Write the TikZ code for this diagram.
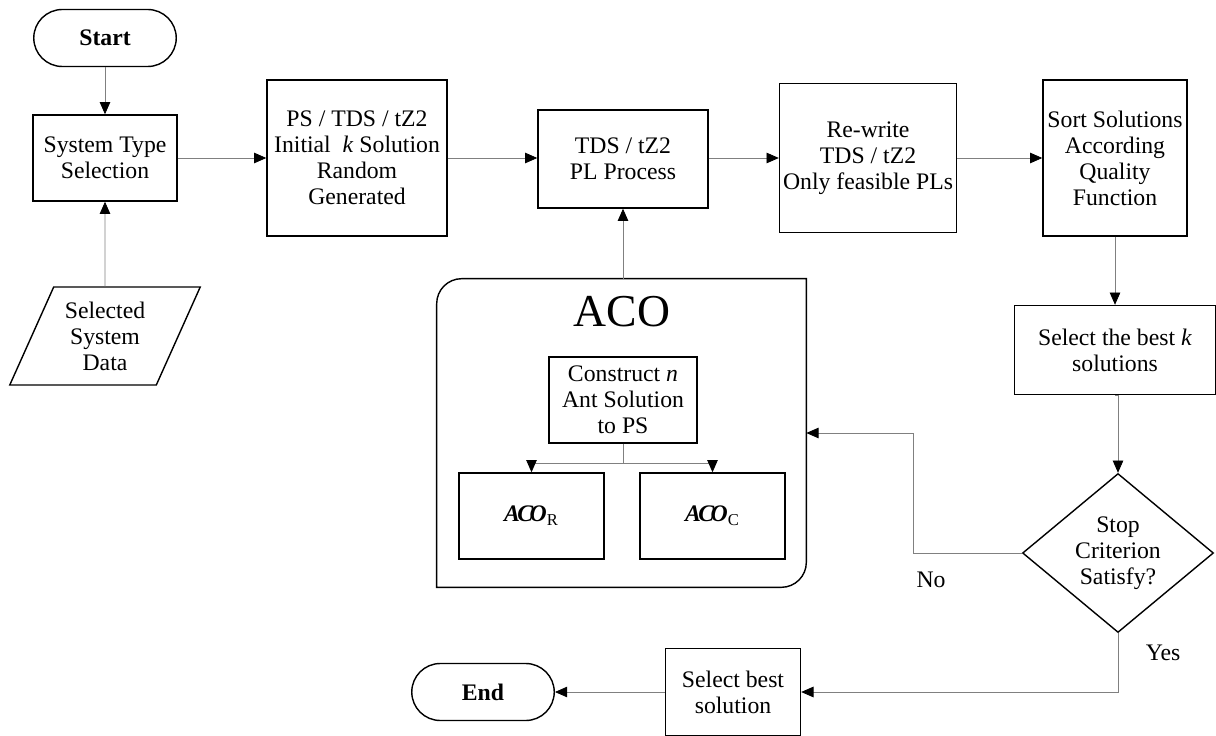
\documentclass[tikz,border=0pt]{standalone}
\usepackage{fontspec}
\setmainfont{Liberation Serif}
\usetikzlibrary{positioning, calc, shapes.geometric, arrows.meta}
\definecolor{lineGray}{RGB}{128, 128, 128}
\newcommand{\flowfont}{\fontsize{13.5}{14.8}\selectfont}
\tikzset{
  procbox/.style={rectangle, draw=black, thick, fill=white,
                  align=center, inner sep=2pt, font=\flowfont},
  termbox/.style={rectangle, draw=black, thick, fill=white,
                  minimum width=2.85cm, minimum height=1.14cm,
                  rounded corners=0.57cm, font=\flowfont\bfseries},
  databox/.style={trapezium, trapezium left angle=63.4, trapezium right angle=116.6,
                  trapezium stretches=true, draw=black, thick,
                  minimum width=3.84cm, minimum height=1.96cm,
                  align=center, inner sep=0pt, font=\flowfont},
  decbox/.style={diamond, draw=black, thick, inner sep=0pt,
                 minimum width=3.82cm, minimum height=3.18cm,
                 align=center, font=\flowfont},
  flow/.style={draw=lineGray, line width=0.5pt,
               -{Triangle[length=7pt, width=6pt, color=black]}},
  plain/.style={draw=lineGray, line width=0.5pt},
}
\newcommand{\acosym}[1]{\textbf{\textit{A\kern-1.5pt C\kern-2pt O}}\textsubscript{#1}}

\begin{document}
\begin{tikzpicture}[x=0.02cm, y=-0.02cm]
    \useasboundingbox (0,0) rectangle (1216,736);

    % Top row
    \node[termbox] (start) at (105,38) {Start};
    \node[procbox, minimum width=2.88cm, minimum height=1.72cm] (systype) at (105,158)
         {System Type\\Selection};
    \node[databox] (sysdata) at (105,336) {Selected\\System\\Data};
    \node[procbox, minimum width=3.6cm, minimum height=3.12cm] (initsol) at (357,158)
         {PS / TDS / tZ2\\Initial \ \textit{k} Solution\\Random\\Generated};
    \node[procbox, minimum width=3.4cm, minimum height=1.96cm] (plproc) at (623,159)
         {TDS / tZ2\\PL Process};
    \node[procbox, minimum width=3.28cm, minimum height=2.98cm] (rewrite) at (868,158)
         {Re-write\\TDS / tZ2\\Only feasible PLs};
    \node[procbox, minimum width=2.88cm, minimum height=3.12cm] (sortsol) at (1115,158)
         {Sort Solutions\\According\\Quality\\Function};

    % Right column
    \node[procbox, minimum width=4.02cm, minimum height=1.78cm] (bestk) at (1115,350)
         {Select the best \textit{k}\\solutions};
    \node[decbox] (stopcrit) at (1118,553) {Stop\\Criterion\\Satisfy?};

    % Bottom row
    \node[procbox, minimum width=2.7cm, minimum height=1.74cm] (bestsol) at (733,692)
         {Select best\\solution};
    \node[termbox] (finish) at (483,692) {End};

    % ACO block
    \node[minimum width=7.38cm, minimum height=6.16cm, inner sep=0pt] (aco) at (621.5,433) {};
    \draw[thick] ($(aco.north west)+(0.5cm,0)$) -- (aco.north east)
        -- ($(aco.south east)+(0,0.5cm)$) arc[start angle=0, end angle=-90, radius=0.5cm]
        -- (aco.south west) -- ($(aco.north west)+(0,-0.5cm)$)
        arc[start angle=180, end angle=90, radius=0.5cm];
    \node[font=\fontsize{26}{28}\selectfont] (acotitle) at (622,312) {ACO};
    \node[procbox, minimum width=2.96cm, minimum height=1.72cm] (construct) at (623,400)
         {Construct \textit{n}\\Ant Solution\\to PS};
    \node[procbox, minimum width=2.9cm, minimum height=1.72cm] (acor) at (531.5,516) {\acosym{R}};
    \node[procbox, minimum width=2.9cm, minimum height=1.72cm] (acoc) at (712.5,516) {\acosym{C}};
    \coordinate (split) at (623,463);

    % Connections
    \draw[flow] (start) -- (systype);
    \draw[flow] (sysdata) -- (systype);
    \draw[flow] (systype) -- (initsol);
    \draw[flow] (initsol.east) -- (plproc.west |- initsol.east);
    \draw[flow] (plproc.east |- initsol.east) -- (rewrite.west |- initsol.east);
    \draw[flow] (rewrite) -- (sortsol);
    \draw[flow] (sortsol) -- (bestk);
    \draw[flow] (bestk.south) -- (bestk.south -| stopcrit.north) -- (stopcrit.north);
    \draw[flow] (aco.north -| plproc.south) -- (plproc.south);
    \draw[plain] (construct.south) -- (split);
    \draw[flow] (split) -| (acor.north);
    \draw[flow] (split) -| (acoc.north);

    % Loop back and exit
    \coordinate (noturn) at (913,433);
    \draw[flow] (stopcrit.west) -| (noturn) -- (aco.east);
    \node[font=\flowfont] (nolabel) at (931,580) {No};
    \draw[flow] (stopcrit.south) |- (bestsol.east);
    \node[font=\flowfont] (yeslabel) at (1163,653) {Yes};
    \draw[flow] (bestsol) -- (finish);
\end{tikzpicture}
\end{document}
